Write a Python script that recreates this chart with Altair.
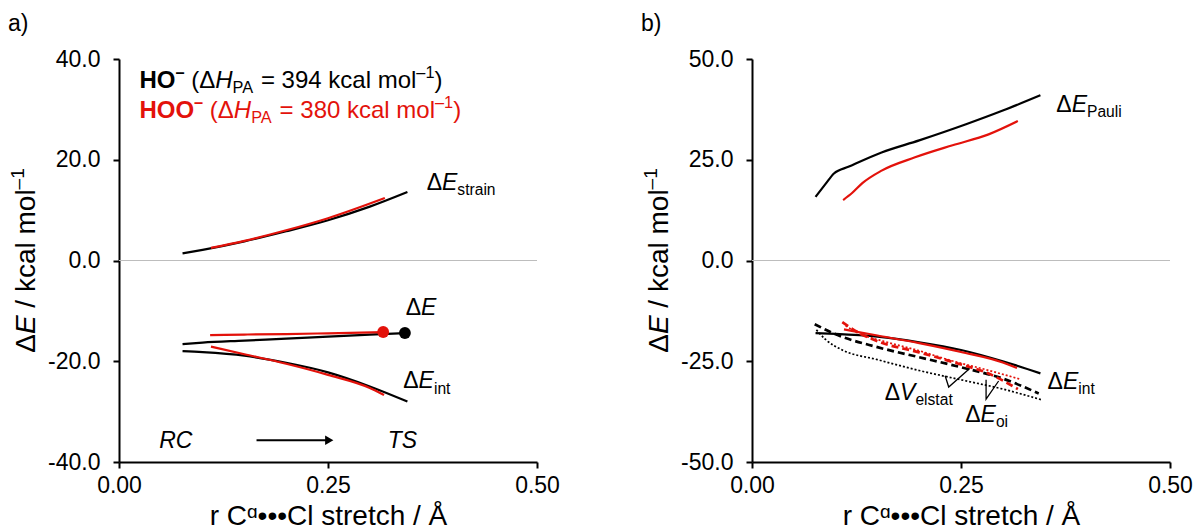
import altair as alt
import pandas as pd

FONT = "Liberation Sans"
RED = "#e3120b"
BLACK = "#000000"

# ---------------- panel a data (r in Å, E in kcal/mol) ----------------
strain_HO_r = [0.076, 0.10, 0.15, 0.20, 0.25, 0.30, 0.345]
strain_HO = [1.4, 2.1, 3.8, 5.8, 8.0, 10.7, 13.6]
strain_HOO_r = [0.110, 0.15, 0.20, 0.25, 0.318]
strain_HOO = [2.5, 3.9, 6.0, 8.4, 12.4]

tot_HO_r = [0.076, 0.10, 0.15, 0.20, 0.25, 0.30, 0.342]
tot_HO = [-16.6, -16.3, -15.9, -15.5, -15.1, -14.7, -14.4]
tot_HOO_r = [0.109, 0.15, 0.20, 0.25, 0.316]
tot_HOO = [-14.8, -14.7, -14.6, -14.45, -14.2]

int_HO_r = [0.076, 0.10, 0.15, 0.20, 0.25, 0.30, 0.345]
int_HO = [-18.0, -18.2, -18.9, -20.3, -22.2, -25.0, -28.0]
int_HOO_r = [0.110, 0.15, 0.20, 0.25, 0.30, 0.317]
int_HOO = [-17.1, -18.6, -20.5, -22.7, -25.3, -26.7]

# ---------------- panel b data ----------------
pauli_HO_r = [0.076, 0.088, 0.098, 0.116, 0.155, 0.20, 0.256, 0.30, 0.345]
pauli_HO = [15.8, 19.0, 21.6, 23.3, 26.8, 29.8, 33.8, 37.2, 41.0]
pauli_HOO_r = [0.109, 0.12, 0.132, 0.155, 0.195, 0.24, 0.283, 0.318]
pauli_HOO = [15.0, 16.8, 19.2, 22.3, 25.6, 28.6, 31.3, 34.6]

elstat_HO_r = [0.077, 0.088, 0.108, 0.15, 0.20, 0.25, 0.30, 0.347]
elstat_HO = [-17.2, -19.6, -22.2, -24.6, -27.3, -29.6, -31.9, -34.6]
elstat_HOO_r = [0.112, 0.13, 0.155, 0.20, 0.236, 0.28, 0.32]
elstat_HOO = [-16.2, -18.3, -19.9, -22.4, -24.7, -27.1, -29.4]

oi_HO_r = [0.075, 0.10, 0.15, 0.20, 0.25, 0.30, 0.343]
oi_HO = [-15.8, -18.3, -21.5, -24.0, -26.5, -29.3, -33.0]
oi_HOO_r = [0.108, 0.13, 0.155, 0.20, 0.25, 0.28, 0.318]
oi_HOO = [-15.3, -18.2, -20.4, -22.8, -25.8, -27.8, -31.9]

# TS points (panel a)
ts_r = [0.342, 0.316]
ts_E = [-14.4, -14.2]
ts_color = [BLACK, RED]

# pointer "V" shapes in panel b (left arm top, tip, right arm top)
vel_r = [0.231, 0.2353, 0.2604]
vel_E = [-28.6, -31.4, -26.8]
voi_r = [0.280, 0.280, 0.295]
voi_E = [-29.6, -34.4, -29.9]

# character widths (Helvetica metrics, per 1000 em)
CW = {' ': 278, '(': 333, ')': 333, '=': 584, '.': 278, '-': 333, '–': 556,
      '/': 278, 'Δ': 668, 'a': 556, 'b': 556, 'c': 500, 'd': 556, 'e': 556, 'i': 222,
      'k': 500, 'l': 222, 'm': 833, 'n': 556, 'o': 556, 'r': 333, 's': 500, 't': 278,
      'u': 556, 'A': 667, 'C': 722, 'E': 667, 'H': 722, 'O': 778, 'P': 667, 'R': 722,
      'S': 667, 'T': 611, 'V': 667}


def tw(s, size):
    return sum(CW.get(c, 556) for c in s) * size / 1000.0


STY = {
    "r": (1.0, 0.0, "normal", "normal"),
    "i": (1.0, 0.0, "italic", "normal"),
    "b": (1.0, 0.0, "normal", "bold"),
    "sub": (0.68, 0.22, "normal", "normal"),
    "sup": (0.68, -0.40, "normal", "normal"),
    "bsup": (0.68, -0.40, "normal", "bold"),
}

ONE = pd.DataFrame({"k": [0]})
TITLE_SIZE = 28


def make_panel(ydomain, yticks, tag, label_defs, line_defs, extra):
    xs = alt.Scale(domain=[0, 0.5], nice=False, zero=False)
    ys = alt.Scale(domain=ydomain, nice=False, zero=False)
    xaxis = alt.Axis(title="r Cᵅ•••Cl stretch / Å", values=[0, 0.25, 0.5], format=".2f",
                     labelFontSize=23, titleFontSize=TITLE_SIZE, titleFontWeight="normal",
                     labelFont=FONT, titleFont=FONT, labelColor=BLACK, titleColor=BLACK,
                     domainColor=BLACK, domainWidth=2, tickColor=BLACK, tickWidth=2,
                     tickSize=6, labelPadding=6, titlePadding=5, grid=False,
                     labelFlush=False)
    yaxis = alt.Axis(title=None, values=yticks,
                     labelExpr="replace(format(datum.value, '.1f'), '\u2212', '-')",
                     labelFontSize=23, labelFont=FONT, labelColor=BLACK,
                     domainColor=BLACK, domainWidth=2, tickColor=BLACK, tickWidth=2,
                     tickSize=6, labelPadding=13, grid=False)

    def X():
        return alt.X("r:Q", scale=xs, axis=xaxis)

    def Y():
        return alt.Y("E:Q", scale=ys, axis=yaxis)

    layers = []
    zero = pd.DataFrame({"r": [0.0], "r2": [0.5], "E": [0.0]})
    layers.append(alt.Chart(zero).mark_rule(color="#bdbdbd", strokeWidth=1.2).encode(
        x=X(), x2="r2:Q", y=Y()))

    for rr, ee, color, kind in line_defs:
        df = pd.DataFrame({"r": rr, "E": ee})
        if kind == "solid":
            m = alt.Chart(df).mark_line(color=color, strokeWidth=2.2, interpolate="monotone")
        elif kind == "dash":
            m = alt.Chart(df).mark_line(color=color, strokeWidth=2.7, strokeDash=[7, 4],
                                        interpolate="monotone")
        else:
            m = alt.Chart(df).mark_line(color=color, strokeWidth=1.7, strokeDash=[2, 2],
                                        interpolate="monotone")
        layers.append(m.encode(x=X(), y=Y()))

    layers.extend(extra(X, Y))

    def rich(pieces, size, color, x=None, y=None, px=None, py=None, angle=0):
        out = []
        off = 0.0
        for txt, st in pieces:
            sc, dyf, fst, fw = STY[st]
            fs = size * sc
            core = txt.strip(" ")
            lead = len(txt) - len(txt.lstrip(" "))
            trail = len(txt) - len(txt.rstrip(" "))
            off += tw(" " * lead, fs)
            kw = dict(text=core, align="left", baseline="alphabetic", dx=off,
                      dy=dyf * size, fontSize=fs, font=FONT, fontStyle=fst,
                      fontWeight=fw, color=color)
            if angle:
                kw["angle"] = angle
            if px is not None:
                ch = alt.Chart(ONE).mark_text(**kw).encode(x=alt.value(px), y=alt.value(py))
            else:
                ch = alt.Chart(pd.DataFrame({"r": [x], "E": [y]})).mark_text(**kw).encode(
                    x=X(), y=Y())
            out.append(ch)
            off += tw(core, fs) + tw(" " * trail, fs)
        return out

    for d in label_defs:
        layers.extend(rich(**d))

    # y axis title
    title_pieces = [("Δ", "r"), ("E", "i"), (" / kcal mol", "r"), ("–1", "sup")]
    total = sum(tw(t, TITLE_SIZE * STY[s][0]) for t, s in title_pieces)
    layers.extend(rich(title_pieces, TITLE_SIZE, BLACK, px=-84, py=201.5 + total / 2,
                       angle=270))
    # panel tag
    layers.append(alt.Chart(ONE).mark_text(text=tag, align="left", baseline="middle",
                                           fontSize=23, font=FONT, color=BLACK).encode(
        x=alt.value(-111), y=alt.value(-35)))

    return alt.layer(*layers).properties(width=418, height=403)


# ---------------- panel a ----------------
def extra_a(X, Y):
    out = []
    pts = pd.DataFrame({"r": ts_r, "E": ts_E, "c": ts_color})
    out.append(alt.Chart(pts).mark_circle(size=140, opacity=1).encode(
        x=X(), y=Y(), color=alt.Color("c:N", scale=None)))
    arrow = pd.DataFrame({"r": [0.1645], "r2": [0.250], "E": [-35.7]})
    out.append(alt.Chart(arrow).mark_rule(color=BLACK, strokeWidth=2).encode(
        x=X(), x2="r2:Q", y=Y()))
    head = pd.DataFrame({"r": [0.2515], "E": [-35.7]})
    out.append(alt.Chart(head).mark_point(shape="triangle-right", filled=True, size=90,
                                          color=BLACK, opacity=1).encode(x=X(), y=Y()))
    return out


def legend_pieces(name, value):
    return [(name, "b"), ("–", "bsup"), (" (Δ", "r"), ("H", "i"), ("PA", "sub"),
            (" = " + value + " kcal mol", "r"), ("–1", "sup"), (")", "r")]


labels_a = [
    dict(pieces=legend_pieces("HO", "394"), size=24, color=BLACK, x=0.0244, y=34.3),
    dict(pieces=legend_pieces("HOO", "380"), size=24, color=RED, x=0.0244, y=28.3),
    dict(pieces=[("Δ", "r"), ("E", "i"), ("strain", "sub")], size=23, color=BLACK,
         x=0.368, y=14.0),
    dict(pieces=[("Δ", "r"), ("E", "i")], size=23, color=BLACK, x=0.343, y=-10.9),
    dict(pieces=[("Δ", "r"), ("E", "i"), ("int", "sub")], size=23, color=BLACK,
         x=0.340, y=-25.4),
    dict(pieces=[("RC", "i")], size=23, color=BLACK, x=0.048, y=-37.2),
    dict(pieces=[("TS", "i")], size=23, color=BLACK, x=0.3214, y=-37.2),
]

lines_a = [
    (strain_HO_r, strain_HO, BLACK, "solid"),
    (strain_HOO_r, strain_HOO, RED, "solid"),
    (int_HO_r, int_HO, BLACK, "solid"),
    (int_HOO_r, int_HOO, RED, "solid"),
    (tot_HO_r, tot_HO, BLACK, "solid"),
    (tot_HOO_r, tot_HOO, RED, "solid"),
]

panel_a = make_panel([-40, 40], [-40, -20, 0, 20, 40], "a)", labels_a, lines_a, extra_a)


# ---------------- panel b ----------------
def extra_b(X, Y):
    vdf = pd.DataFrame({"r": vel_r + voi_r, "E": vel_E + voi_E,
                        "g": ["v"] * len(vel_r) + ["o"] * len(voi_r),
                        "o": list(range(len(vel_r))) + list(range(len(voi_r)))})
    return [alt.Chart(vdf).mark_line(color=BLACK, strokeWidth=1.3).encode(
        x=X(), y=Y(), detail="g:N", order="o:Q")]


labels_b = [
    dict(pieces=[("Δ", "r"), ("E", "i"), ("Pauli", "sub")], size=23, color=BLACK,
         x=0.364, y=36.8),
    dict(pieces=[("Δ", "r"), ("E", "i"), ("int", "sub")], size=23, color=BLACK,
         x=0.3535, y=-31.8),
    dict(pieces=[("Δ", "r"), ("V", "i"), ("elstat", "sub")], size=23, color=BLACK,
         x=0.1587, y=-34.5),
    dict(pieces=[("Δ", "r"), ("E", "i"), ("oi", "sub")], size=23, color=BLACK,
         x=0.255, y=-40.0),
]

lines_b = [
    (pauli_HO_r, pauli_HO, BLACK, "solid"),
    (pauli_HOO_r, pauli_HOO, RED, "solid"),
    (elstat_HO_r, elstat_HO, BLACK, "dot"),
    (oi_HO_r, oi_HO, BLACK, "dash"),
    (int_HO_r, int_HO, BLACK, "solid"),
    (elstat_HOO_r, elstat_HOO, RED, "dot"),
    (oi_HOO_r, oi_HOO, RED, "dash"),
    (int_HOO_r, int_HOO, RED, "solid"),
]

panel_b = make_panel([-50, 50], [-50, -25, 0, 25, 50], "b)", labels_b, lines_b, extra_b)

chart = alt.hconcat(panel_a, panel_b, spacing=81).properties(
    padding={"left": 8, "top": 13, "right": 0, "bottom": 0}
).configure_view(stroke=None)

chart.save("out.html", embed_options={"renderer": "svg", "actions": False})
